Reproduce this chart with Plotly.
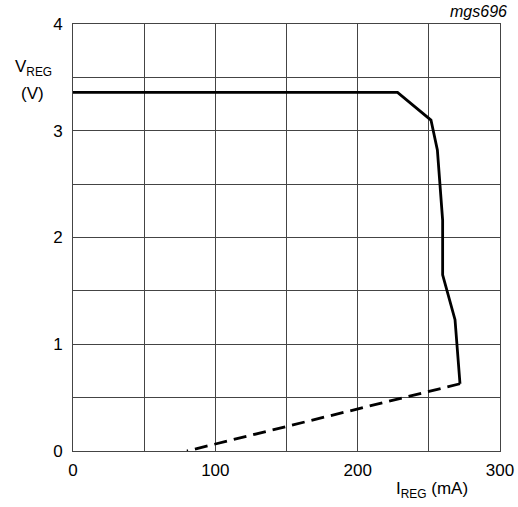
import plotly.graph_objects as go

# Solid curve (regulator output voltage vs current)
solid_i = [0, 228, 251.5, 256, 259.7, 259.7, 268.4, 271.9]
solid_v = [3.36, 3.36, 3.10, 2.82, 2.16, 1.65, 1.23, 0.63]
# Dashed foldback segment
dash_i = [271.9, 80]
dash_v = [0.63, 0]

x_ticks = [0, 50, 100, 150, 200, 250, 300]
x_labels = ["0", "", "100", "", "200", "", "300"]
y_ticks = [0, 0.5, 1, 1.5, 2, 2.5, 3, 3.5, 4]
y_labels = ["0", "", "1", "", "2", "", "3", "", "4"]

FONT = "Liberation Sans, Arial, sans-serif"

fig = go.Figure()
fig.add_trace(go.Scatter(x=solid_i, y=solid_v, mode="lines",
                         line=dict(color="black", width=2.8), showlegend=False))
fig.add_trace(go.Scatter(x=dash_i, y=dash_v, mode="lines",
                         line=dict(color="black", width=2.8, dash="13px,7px"), showlegend=False))

fig.update_layout(
    width=518, height=507,
    margin=dict(l=73, r=18, t=24, b=56, autoexpand=False),
    paper_bgcolor="white", plot_bgcolor="white",
    font=dict(family=FONT, size=16, color="black"),
    xaxis=dict(range=[0, 300], tickvals=x_ticks, ticktext=x_labels,
               showgrid=True, gridcolor="#444", gridwidth=1,
               showline=True, linecolor="#444", linewidth=1, mirror=True,
               zeroline=False, ticks="", ticklen=0, ticklabelstandoff=4,
               tickfont=dict(size=17), automargin=False),
    yaxis=dict(range=[0, 4], tickvals=y_ticks, ticktext=y_labels,
               showgrid=True, gridcolor="#444", gridwidth=1,
               showline=True, linecolor="#444", linewidth=1, mirror=True,
               zeroline=False, ticks="", ticklen=0, ticklabelstandoff=6,
               tickfont=dict(size=17), automargin=False),
    annotations=[
        dict(text="V<sub>REG</sub>", xref="paper", yref="paper", x=-0.0925, y=0.897,
             xanchor="center", yanchor="middle", showarrow=False, font=dict(size=17)),
        dict(text="(V)", xref="paper", yref="paper", x=-0.095, y=0.837,
             xanchor="center", yanchor="middle", showarrow=False, font=dict(size=17)),
        dict(text="I<sub>REG</sub> (mA)", xref="paper", yref="paper", x=0.841, y=-0.091,
             xanchor="center", yanchor="middle", showarrow=False, font=dict(size=17)),
        dict(text="<i>mgs696</i>", xref="paper", yref="paper", x=1.02, y=1.030,
             xanchor="right", yanchor="middle", showarrow=False, font=dict(size=16)),
    ],
)

fig.write_html("out.html")
